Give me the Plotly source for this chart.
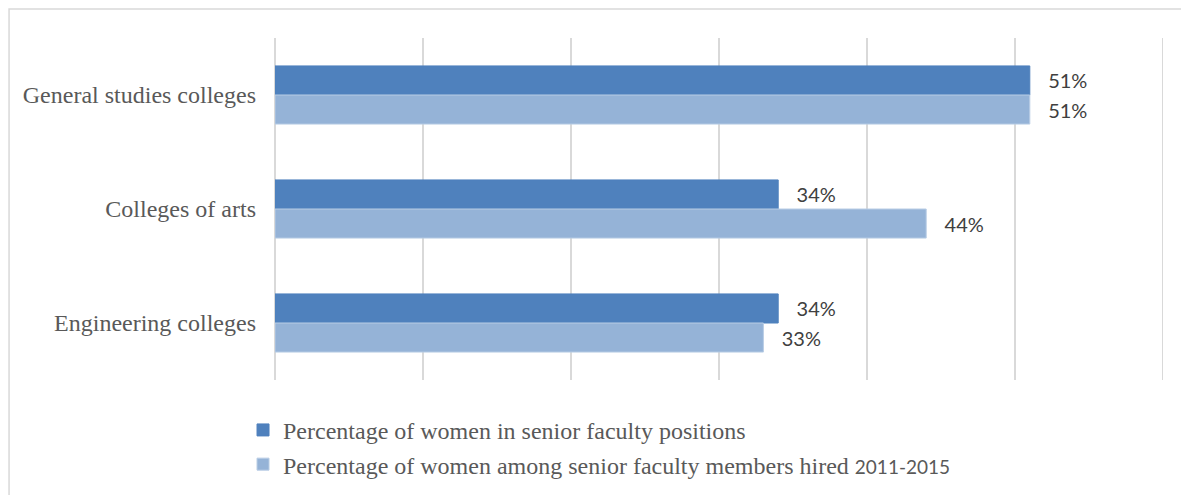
import plotly.graph_objects as go

CATEGORIES = ["General studies colleges", "Colleges of arts", "Engineering colleges"]
SENIOR_SHARE = [51, 34, 34]
HIRED_SHARE = [51, 44, 33]
SERIES_NAMES = [
    "Percentage of women in senior faculty positions",
    "Percentage of women among senior faculty members hired "
    "<span style='font-family:Lato;font-size:19px'>2011-2015</span>",
]
X_TICKS = [0, 10, 20, 30, 40, 50, 60]

DARK_BLUE = "#4F81BD"
LIGHT_BLUE = "#95B3D7"
GRID = "#D9D9D9"
LABEL_PAD = "\u00a0" * 3

fig = go.Figure()
for name, values, color, edge, group in [
    (SERIES_NAMES[0], SENIOR_SHARE, DARK_BLUE, DARK_BLUE, "a"),
    (SERIES_NAMES[1], HIRED_SHARE, LIGHT_BLUE, "#B9CDE5", "b"),
]:
    fig.add_trace(
        go.Bar(
            y=CATEGORIES,
            x=values,
            name=name,
            orientation="h",
            legendgroup=group,
            marker=dict(color=color, line=dict(color=edge, width=1)),
            texttemplate=LABEL_PAD + "%{x}%",
            textposition="outside",
            textfont=dict(family="Lato", size=20, color="#404040"),
            cliponaxis=False,
        )
    )

# the page puts the figure 8px in from the top-left corner
fig.update_layout(
    width=1181,
    height=487,
    barmode="group",
    bargap=0.49,
    bargroupgap=0,
    paper_bgcolor="white",
    plot_bgcolor="white",
    margin=dict(l=267, r=26, t=30, b=115, autoexpand=False),
    font=dict(family="Liberation Serif", size=24, color="#595959"),
    legend=dict(
        orientation="v",
        xref="container",
        yref="container",
        x=0.199,
        xanchor="left",
        y=0.179,
        yanchor="top",
        traceorder="normal",
        tracegroupgap=11,
        font=dict(family="Liberation Serif", size=24, color="#595959"),
        itemwidth=30,
    ),
    shapes=[
        dict(
            type="rect",
            xref="paper",
            yref="paper",
            x0=-0.2995,
            x1=1.2,
            y0=-0.6,
            y1=1.0848,
            line=dict(color=GRID, width=1.5),
            fillcolor="rgba(0,0,0,0)",
            layer="below",
        ),
        # last gridline sits on the plot edge, plotly skips it
        dict(
            type="line",
            xref="x",
            yref="paper",
            x0=X_TICKS[-1],
            x1=X_TICKS[-1],
            y0=0,
            y1=1,
            line=dict(color=GRID, width=2),
            layer="below",
        ),
    ],
)
fig.update_xaxes(
    range=[0, 60],
    tickvals=X_TICKS,
    showticklabels=False,
    showgrid=True,
    gridcolor=GRID,
    gridwidth=2,
    zeroline=True,
    zerolinecolor=GRID,
    zerolinewidth=2,
    showline=False,
)
fig.update_yaxes(
    categoryorder="array",
    categoryarray=CATEGORIES,
    autorange="reversed",
    showgrid=False,
    showline=False,
    ticks="",
    ticklabelstandoff=18,
    tickfont=dict(family="Liberation Serif", size=24, color="#595959"),
)

fig.write_html("out.html")
